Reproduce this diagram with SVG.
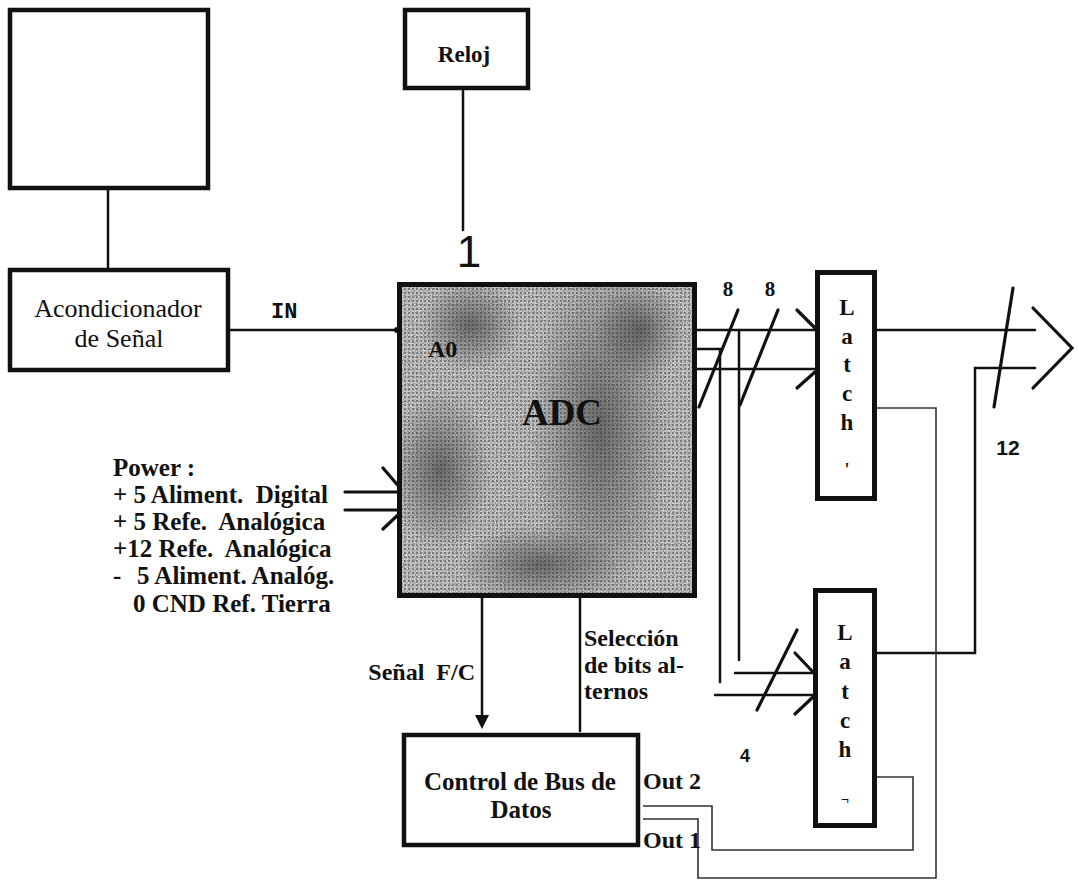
<svg xmlns="http://www.w3.org/2000/svg" width="1079" height="881" viewBox="0 0 1079 881">
<style>
.ln{stroke:#111;stroke-width:2.5;fill:none;stroke-linecap:round}
.hv{stroke:#111;stroke-width:3.2;fill:none;stroke-linecap:round}
.thin{stroke:#333;stroke-width:1.6;fill:none}
.box{fill:#fff;stroke:#111;stroke-width:4.5}
.tb{font-family:"Liberation Serif","Times New Roman",serif;font-weight:bold;fill:#111}
.tr{font-family:"Liberation Serif","Times New Roman",serif;fill:#111}
.ts{font-family:"Liberation Sans",Arial,sans-serif;fill:#111}
.mid{text-anchor:middle}
</style>
<defs>
<pattern id="ht" width="4" height="4" patternUnits="userSpaceOnUse">
<rect width="4" height="4" fill="#d4d4d4"/>
<rect width="2" height="2" fill="#8a8a8a"/>
</pattern>
<radialGradient id="dk">
<stop offset="0" stop-color="#333" stop-opacity="0.6"/>
<stop offset="1" stop-color="#333" stop-opacity="0"/>
</radialGradient>
<filter id="speck" x="0" y="0" width="1" height="1" color-interpolation-filters="sRGB">
<feTurbulence type="fractalNoise" baseFrequency="0.85" numOctaves="1" seed="7"/>
<feColorMatrix type="matrix" values="0 0 0 0 0.25  0 0 0 0 0.25  0 0 0 0 0.25  2.6 0 0 0 -1.0"/>
</filter>
<clipPath id="adcclip"><rect x="402" y="287" width="290" height="306"/></clipPath>
</defs>
<rect width="1079" height="881" fill="#fff"/>

<g id="connectors">
<line class="ln" x1="108" y1="190" x2="108" y2="268"/>
<line class="ln" x1="228" y1="330" x2="397" y2="330"/>
<circle cx="397" cy="330" r="3" fill="#111"/>
<line class="ln" x1="463" y1="88" x2="463" y2="230"/>
<!-- power inputs -->
<line class="hv" x1="345" y1="492" x2="399" y2="492"/>
<line class="hv" x1="345" y1="510" x2="399" y2="510"/>
<path class="hv" d="M383,468 L401,489 M401,512 L383,529"/>
<!-- ADC to latches bus -->
<line class="ln" x1="697" y1="330" x2="815" y2="330"/>
<line class="ln" x1="697" y1="349" x2="720" y2="349"/>
<line class="ln" x1="720" y1="349" x2="720" y2="682"/>
<line class="ln" x1="697" y1="369" x2="815" y2="369"/>
<line class="ln" x1="739" y1="330" x2="739" y2="660"/>
<line class="ln" x1="735" y1="673" x2="813" y2="673"/>
<line class="ln" x1="715" y1="695" x2="813" y2="695"/>
<path class="hv" d="M797,310 L815,328 M815,372 L797,388"/>
<line class="hv" x1="738" y1="310" x2="699" y2="407"/>
<line class="hv" x1="778" y1="310" x2="740" y2="405"/>
<path class="hv" d="M795,653 L813,672 M813,697 L795,714"/>
<line class="hv" x1="797" y1="630" x2="757" y2="710"/>
<!-- outputs -->
<line class="ln" x1="877" y1="330" x2="1035" y2="330"/>
<polyline class="ln" points="877,653 975,653 975,368 1035,368"/>
<path class="hv" d="M1033,308 L1072,348 L1033,388"/>
<line class="hv" x1="1013" y1="288" x2="994" y2="407"/>
<!-- control lines -->
<line class="ln" x1="482" y1="598" x2="482" y2="716"/>
<polygon points="475,715 489,715 482,729" fill="#111"/>
<line class="ln" x1="580" y1="598" x2="580" y2="731"/>
<polyline class="thin" points="643,806 712,806 712,850 913,850 913,777 877,777"/>
<polyline class="thin" points="643,819 698,819 698,878 936,878 936,408 877,408"/>
</g>

<g id="sensor">
<rect class="box" x="10" y="10" width="198" height="178"/>
</g>

<g id="acondicionador">
<rect class="box" x="10" y="270" width="218" height="100"/>
<text class="tr mid" x="118" y="317" font-size="26">Acondicionador</text>
<text class="tr mid" x="119" y="347" font-size="26">de Señal</text>
</g>

<g id="in-label">
<text x="271" y="318" font-family="Liberation Mono, Courier New, monospace" font-weight="bold" font-size="22" fill="#111">IN</text>
</g>

<g id="reloj">
<rect class="box" x="405" y="10" width="123" height="78"/>
<text class="tb mid" x="464" y="62" font-size="23">Reloj</text>
<text class="ts mid" x="469" y="267" font-size="44">1</text>
</g>

<g id="adc">
<rect x="399.5" y="284.5" width="295" height="311" fill="url(#ht)"/>
<g clip-path="url(#adcclip)">
<ellipse cx="600" cy="430" rx="70" ry="175" fill="url(#dk)"/>
<ellipse cx="470" cy="325" rx="50" ry="45" fill="url(#dk)"/>
<ellipse cx="440" cy="470" rx="50" ry="80" fill="url(#dk)"/>
<ellipse cx="540" cy="565" rx="80" ry="40" fill="url(#dk)"/>
<ellipse cx="640" cy="330" rx="45" ry="50" fill="url(#dk)"/>
<rect x="402" y="287" width="290" height="306" fill="#000" filter="url(#speck)" opacity="0.6"/>
</g>
<rect x="399.5" y="284.5" width="295" height="311" fill="none" stroke="#111" stroke-width="5"/>
<text class="tb" x="428" y="357" font-size="24">A0</text>
<text class="tb mid" x="562" y="425" font-size="37">ADC</text>
</g>

<g id="bus-labels">
<text class="tb mid" x="728" y="296" font-size="21">8</text>
<text class="tb mid" x="770" y="296" font-size="21">8</text>
<text class="ts mid" x="1008" y="455" font-size="21" font-weight="bold">12</text>
<text class="ts mid" x="745" y="762" font-size="18" font-weight="bold">4</text>
</g>

<g id="latch1">
<rect x="817.5" y="272.5" width="57" height="226" fill="#fff" stroke="#111" stroke-width="5"/>
<text class="tb mid" x="847" y="315" font-size="23">L</text>
<text class="tb mid" x="847" y="344" font-size="23">a</text>
<text class="tb mid" x="847" y="372" font-size="23">t</text>
<text class="tb mid" x="847" y="401" font-size="23">c</text>
<text class="tb mid" x="847" y="430" font-size="23">h</text>
<text class="tb mid" x="847" y="476" font-size="18">'</text>
</g>

<g id="latch2">
<rect x="815.5" y="590.5" width="59" height="235" fill="#fff" stroke="#111" stroke-width="5"/>
<text class="tb mid" x="845" y="640" font-size="23">L</text>
<text class="tb mid" x="845" y="669" font-size="23">a</text>
<text class="tb mid" x="845" y="699" font-size="23">t</text>
<text class="tb mid" x="845" y="728" font-size="23">c</text>
<text class="tb mid" x="845" y="757" font-size="23">h</text>
<text class="tb mid" x="845" y="805" font-size="14">¬</text>
</g>

<g id="control">
<rect class="box" x="404" y="735" width="234" height="110"/>
<text class="tb mid" x="520" y="790" font-size="25">Control de Bus de</text>
<text class="tb mid" x="521" y="818" font-size="25">Datos</text>
</g>

<g id="signal-labels">
<text class="tb" x="475" y="680" font-size="24" text-anchor="end" xml:space="preserve">Señal  F/C</text>
<text class="tb" x="584" y="646" font-size="24">Selección</text>
<text class="tb" x="584" y="673" font-size="24">de bits al-</text>
<text class="tb" x="584" y="699" font-size="24">ternos</text>
<text class="tb" x="643" y="789" font-size="24">Out 2</text>
<text class="tb" x="643" y="848" font-size="24">Out 1</text>
</g>

<g id="power">
<text class="tb" x="113" y="476" font-size="25">Power :</text>
<text class="tb" x="113" y="503" font-size="25" xml:space="preserve">+ 5 Aliment.  Digital</text>
<text class="tb" x="113" y="530" font-size="25" xml:space="preserve">+ 5 Refe.  Analógica</text>
<text class="tb" x="113" y="557" font-size="25" xml:space="preserve">+12 Refe.  Analógica</text>
<text class="tb" x="113" y="584" font-size="25"><tspan x="113">-</tspan><tspan x="137">5 Aliment. Analóg.</tspan></text>
<text class="tb" x="133" y="612" font-size="25">0 CND Ref. Tierra</text>
</g>
</svg>
